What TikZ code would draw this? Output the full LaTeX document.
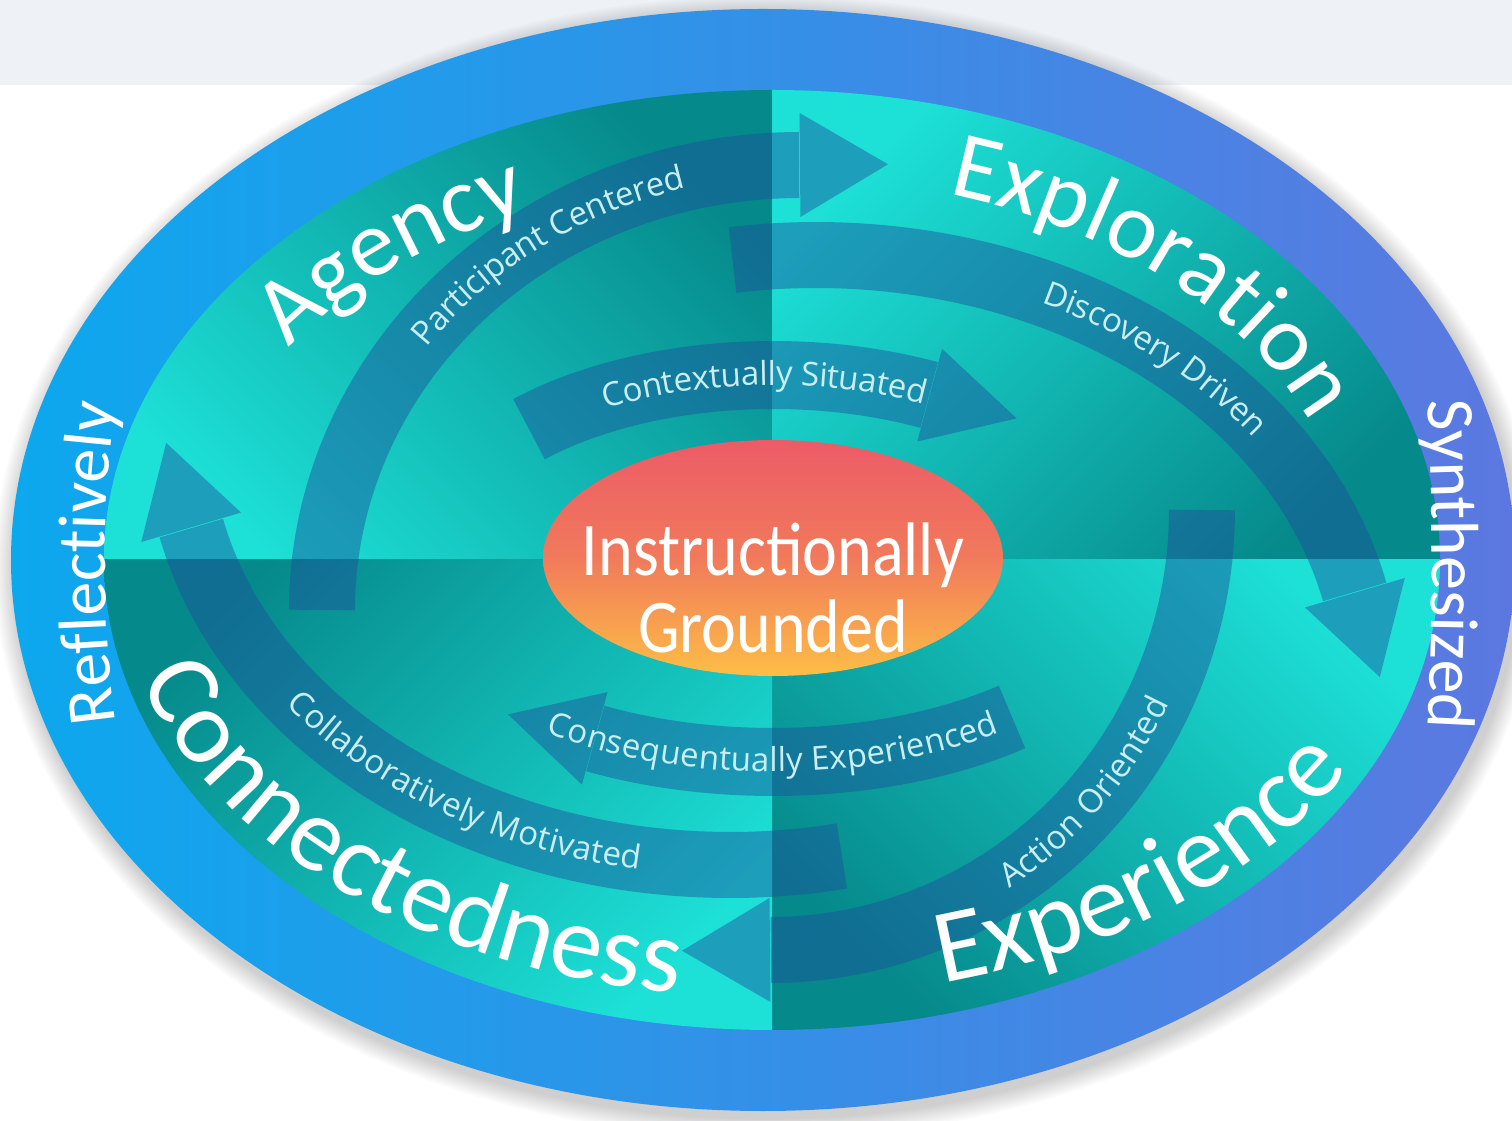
\documentclass[tikz,border=0pt]{standalone}
\usepackage{fontspec}
\usepackage{graphicx}
\usetikzlibrary{calc,decorations.text,shapes.geometric}
\newfontfamily\calfont{Carlito}
\newfontfamily\osfont{Open Sans}
\definecolor{gband}{HTML}{EEF2F6}
\definecolor{ringL}{HTML}{0CA8EE}
\definecolor{ringR}{HTML}{5C78E0}
\definecolor{tealD}{HTML}{06898B}
\definecolor{tealB}{HTML}{1DE0D6}
\definecolor{bandc}{HTML}{1D4F9C}
\definecolor{coreT}{HTML}{EC5B67}
\definecolor{coreM}{HTML}{F17A5B}
\definecolor{coreB}{HTML}{FDBE46}
\definecolor{lbl}{HTML}{C8EEF2}
\newcommand\bigf{\calfont\fontsize{95}{95}\selectfont\color{white}}
\newcommand\botf{\calfont\fontsize{105}{105}\selectfont\color{white}}
\newcommand\sidef{\calfont\fontsize{68}{68}\selectfont\color{white}}
\newcommand\smallf{\osfont\fontsize{33}{33}\selectfont\color{lbl}}
\newcommand\bw{66pt}
\newcommand\hw{52pt}
\newcommand\hl{88pt}
\tikzset{
  spir/.style n args={7}{insert path={plot[domain=0:1,samples=120,variable=\t]
    ({#1+(#3)*((#6)+((#7)-(#6))*\t)*cos((#4)+((#5)-(#4))*\t)},
     {#2+((#6)+((#7)-(#6))*\t)*sin((#4)+((#5)-(#4))*\t)})}},
}
% band with arrow head: cx, cy, k, t start, t end, r start, r end, name
\newcommand\bandarrow[8]{%
  \begin{scope}[transparency group, opacity=0.45]
    \draw[line width=\bw, draw=bandc, spir={#1}{#2}{#3}{#4}{#5}{#6}{#7}];
    \pgfmathsetmacro\drate{((#7)-(#6))/((#4)-(#5))}
    \coordinate (#8-b) at ({#1+(#3)*(#7)*cos(#5)},{#2+(#7)*sin(#5)});
    \coordinate (#8-a) at ({#1+(#3)*((#7)-\drate)*cos((#5)+1)},{#2+((#7)-\drate)*sin((#5)+1)});
    \fill[bandc] ($(#8-b)!\hw!90:(#8-a)$) -- ($(#8-b)!-\hl!(#8-a)$) -- ($(#8-b)!\hw!-90:(#8-a)$) -- cycle;
  \end{scope}}
% text along ellipse arc: cx, cy, k, t a, t b, r a, r b, raise, text
\newcommand\arctext[9]{%
  \path[decorate, decoration={text along path, text={#9}, text align=center, raise=#8},
        spir={#1}{#2}{#3}{#4}{#5}{#6}{#7}];}
\begin{document}
\begin{tikzpicture}[x=1pt,y=1pt]
\useasboundingbox (0,0) rectangle (1512,1120);
\fill[white] (0,0) rectangle (1512,1120);
\fill[gband] (0,1035) rectangle (1512,1120);
% soft shadow
\foreach \i in {1,...,12}
  \fill[black, opacity=0.014] (767,553) ellipse [x radius={752+\i*1.7}, y radius={551+\i*1.7}];
% outer ring
\shade[left color=ringL, right color=ringR] (763,560) ellipse [x radius=752, y radius=551];
% inner quadrants
\begin{scope}
  \clip (772,560) ellipse [x radius=668, y radius=470];
  \shade[top color=tealD, bottom color=tealB, shading angle=-45] (104,560) rectangle (772,1030);
  \shade[top color=tealB, bottom color=tealD, shading angle=45] (772,560) rectangle (1440,1030);
  \shade[top color=tealB, bottom color=tealD, shading angle=-45] (772,90) rectangle (1440,560);
  \shade[top color=tealD, bottom color=tealB, shading angle=45] (104,90) rectangle (772,560);
  % outer arrows
  \bandarrow{800}{510}{1.0742}{180}{90}{445}{445}{pc}
  \bandarrow{816}{434}{1.2807}{98.7}{12.5}{431}{431}{dd}
  \bandarrow{770}{610}{0.9818}{0}{-90}{440}{440}{ao}
  \bandarrow{730}{686}{1.2807}{281.7}{192.5}{431}{431}{cm}
  % inner arrows
  \renewcommand\bw{68pt}\renewcommand\hw{48pt}\renewcommand\hl{90pt}
  \bandarrow{773}{560}{1.865}{135}{63}{185}{185}{cs}
  \bandarrow{773}{560}{1.88}{-51}{-118}{202}{202}{ce}
\end{scope}
% core
\node[ellipse, minimum width=460pt, minimum height=236pt, inner sep=0pt,
      top color=coreT, bottom color=coreB, middle color=coreM] (core) at (773,562) {};
\node[anchor=base, text=white, font=\calfont\fontsize{66}{66}\selectfont] (l1) at (773,544) {\scalebox{1}[1.15]{Instructionally}};
\node[anchor=base, text=white, font=\calfont\fontsize{66}{66}\selectfont] (l2) at (773,467) {\scalebox{1}[1.15]{Grounded}};
% band labels
\arctext{800}{510}{1.0742}{164}{84}{445}{445}{-10pt}{|\smallf|Participant Centered}
\arctext{816}{434}{1.2807}{88.5}{8.5}{431}{431}{-10pt}{|\smallf|Discovery Driven}
\arctext{770}{610}{0.9818}{-81.5}{-1.5}{440}{440}{-10pt}{|\smallf|Action Oriented}
\arctext{730}{686}{1.2807}{197.6}{277.6}{431}{431}{-10pt}{|\smallf|Collaboratively Motivated}
\arctext{773}{560}{1.865}{152}{32}{185}{185}{-10pt}{|\smallf|Contextually Situated}
\arctext{773}{560}{1.88}{-150}{-30}{202}{202}{-10pt}{|\smallf|Consequentually Experienced}
% main labels
\arctext{773}{560}{1.5}{174.5}{94.5}{386}{386}{0pt}{|\bigf|Agency}
\arctext{773}{560}{1.5}{84}{4}{384}{384}{0pt}{|\bigf|Exploration}
\arctext{773}{560}{1.5}{187.5}{267.5}{438}{438}{0pt}{|\botf|Connectedness}
\arctext{773}{560}{1.5}{-89}{-9}{438}{438}{0pt}{|\botf|Experience}
% ring labels
\arctext{773}{557}{0.7422}{200}{160}{900}{900}{0pt}{|\sidef|Reflectively}
\arctext{773}{555}{0.4707}{20}{-20}{1400}{1400}{0pt}{|\sidef|Synthesized}
\end{tikzpicture}
\end{document}
